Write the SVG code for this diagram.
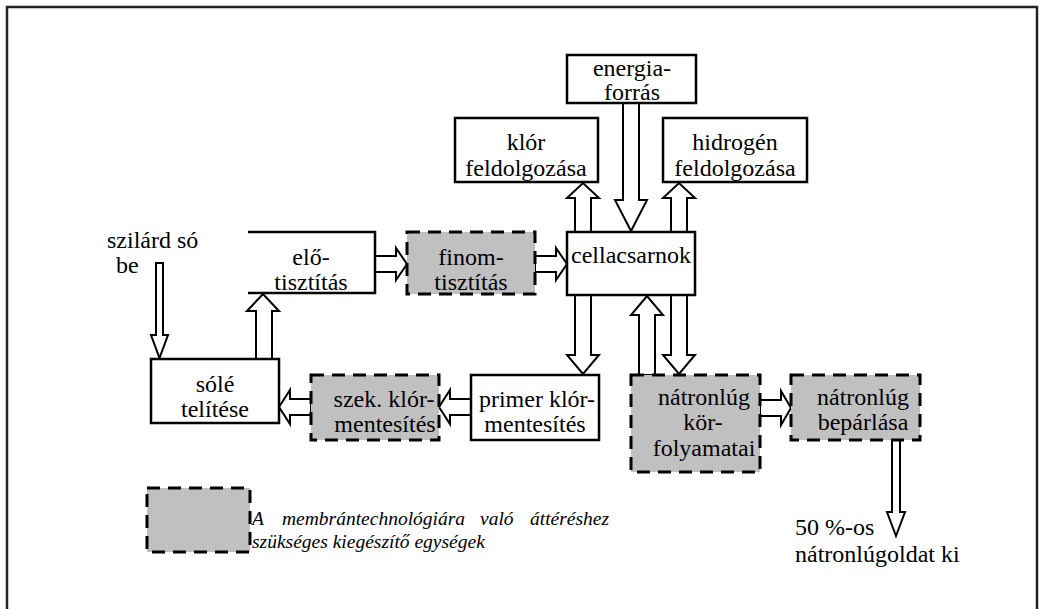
<svg xmlns="http://www.w3.org/2000/svg" width="1055" height="609" viewBox="0 0 1055 609">
<style>
.box{fill:#fff;stroke:#000;stroke-width:2.5}
.dbox{fill:#c0c0c0;stroke:#000;stroke-width:3;stroke-dasharray:13 8}
.arr{fill:#fff;stroke:#000;stroke-width:2;stroke-linejoin:miter}
.t{font-family:'Liberation Serif','Times New Roman',Times,serif;font-size:24px;fill:#000}
.c{text-anchor:middle}
.it{font-style:italic;font-size:19.5px}
</style>
<rect width="1055" height="609" fill="#fff"/>
<path d="M7,609 V7 H1037 V609" fill="none" stroke="#222" stroke-width="2.5"/>
<g id="connectors">
<polygon class="arr" points="623,103 623,200 615,200 631,231 647,200 639,200 639,103"/>
<polygon class="arr" points="575,232 575,198 567,198 583,183 599,198 591,198 591,232"/>
<polygon class="arr" points="671,232 671,198 663,198 679,183 695,198 687,198 687,232"/>
<polygon class="arr" points="375,256 396,256 396,248 407,264 396,280 396,272 375,272"/>
<polygon class="arr" points="535,256 556,256 556,248 567,264 556,280 556,272 535,272"/>
<polygon class="arr" points="156,263 156,335 151,335 159.5,358 168,335 163,335 163,263"/>
<polygon class="arr" points="256,359 256,311 247,311 263,294 279,311 272,311 272,359"/>
<polygon class="arr" points="575,295 575,355 567,355 583,374 599,355 591,355 591,295"/>
<polygon class="arr" points="639,375 639,315 631,315 647,296 663,315 655,315 655,375"/>
<polygon class="arr" points="671,295 671,355 663,355 679,374 695,355 687,355 687,295"/>
<polygon class="arr" points="471,399 450,399 450,390 439,407 450,424 450,415 471,415"/>
<polygon class="arr" points="311,399 290,399 290,390 279,407 290,424 290,415 311,415"/>
<polygon class="arr" points="760,400 781,400 781,391 791,408 781,425 781,416 760,416"/>
<polygon class="arr" points="892,440 892,512 887,512 896,536 905,512 900,512 900,440"/>
</g>
<g id="energiaforras"><rect class="box" x="567" y="55" width="129" height="48"/><text class="t c" x="632" y="76">energia-</text><text class="t c" x="632" y="100">forrás</text></g>
<g id="klor"><rect class="box" x="455" y="118" width="143" height="64"/><text class="t c" x="526" y="150">klór</text><text class="t c" x="526" y="176">feldolgozása</text></g>
<g id="hidrogen"><rect class="box" x="663" y="118" width="144" height="64"/><text class="t c" x="735" y="150">hidrogén</text><text class="t c" x="735" y="176">feldolgozása</text></g>
<g id="szilard"><text class="t" x="107" y="248">szilárd só</text><text class="t" x="116" y="273">be</text></g>
<g id="elotisztitas"><path class="box" d="M248,232 H375 V293 H248"/><text class="t c" x="311" y="265">elő-</text><text class="t c" x="311" y="290">tisztítás</text></g>
<g id="finomtisztitas"><rect class="dbox" x="407" y="232" width="128" height="62"/><text class="t c" x="471" y="265">finom-</text><text class="t c" x="471" y="290">tisztítás</text></g>
<g id="cellacsarnok"><rect class="box" x="567" y="232" width="128" height="63"/><text class="t c" x="631" y="263">cellacsarnok</text></g>
<g id="soletelitese"><rect class="box" x="151" y="359" width="128" height="64"/><text class="t c" x="215" y="392">sólé</text><text class="t c" x="215" y="417">telítése</text></g>
<g id="szekklormentesites"><rect class="dbox" x="311" y="375" width="128" height="65"/><text class="t c" x="384" y="407">szek. klór-</text><text class="t c" x="385" y="432">mentesítés</text></g>
<g id="primerklormentesites"><rect class="box" x="471" y="375" width="128" height="65"/><text class="t c" x="537" y="407">primer klór-</text><text class="t c" x="535" y="432">mentesítés</text></g>
<g id="natronlugkor"><rect class="dbox" x="631" y="375" width="129" height="97"/><text class="t c" x="704" y="405">nátronlúg</text><text class="t c" x="703" y="430">kör-</text><text class="t c" x="704" y="456">folyamatai</text></g>
<g id="beparlasa"><rect class="dbox" x="791" y="375" width="129" height="65"/><text class="t c" x="863" y="405">nátronlúg</text><text class="t c" x="863" y="430">bepárlása</text></g>
<g id="kimenet"><text class="t" x="795" y="535">50 %-os</text><text class="t" x="795" y="562">nátronlúgoldat ki</text></g>
<g id="legend"><rect class="dbox" x="147" y="488" width="103" height="64"/>
<text class="t it" y="525"><tspan x="252">A</tspan><tspan x="282">membrántechnológiára</tspan><tspan x="480">való</tspan><tspan x="530">áttéréshez</tspan></text>
<text class="t it" x="252" y="548">szükséges kiegészítő egységek</text></g>
</svg>
